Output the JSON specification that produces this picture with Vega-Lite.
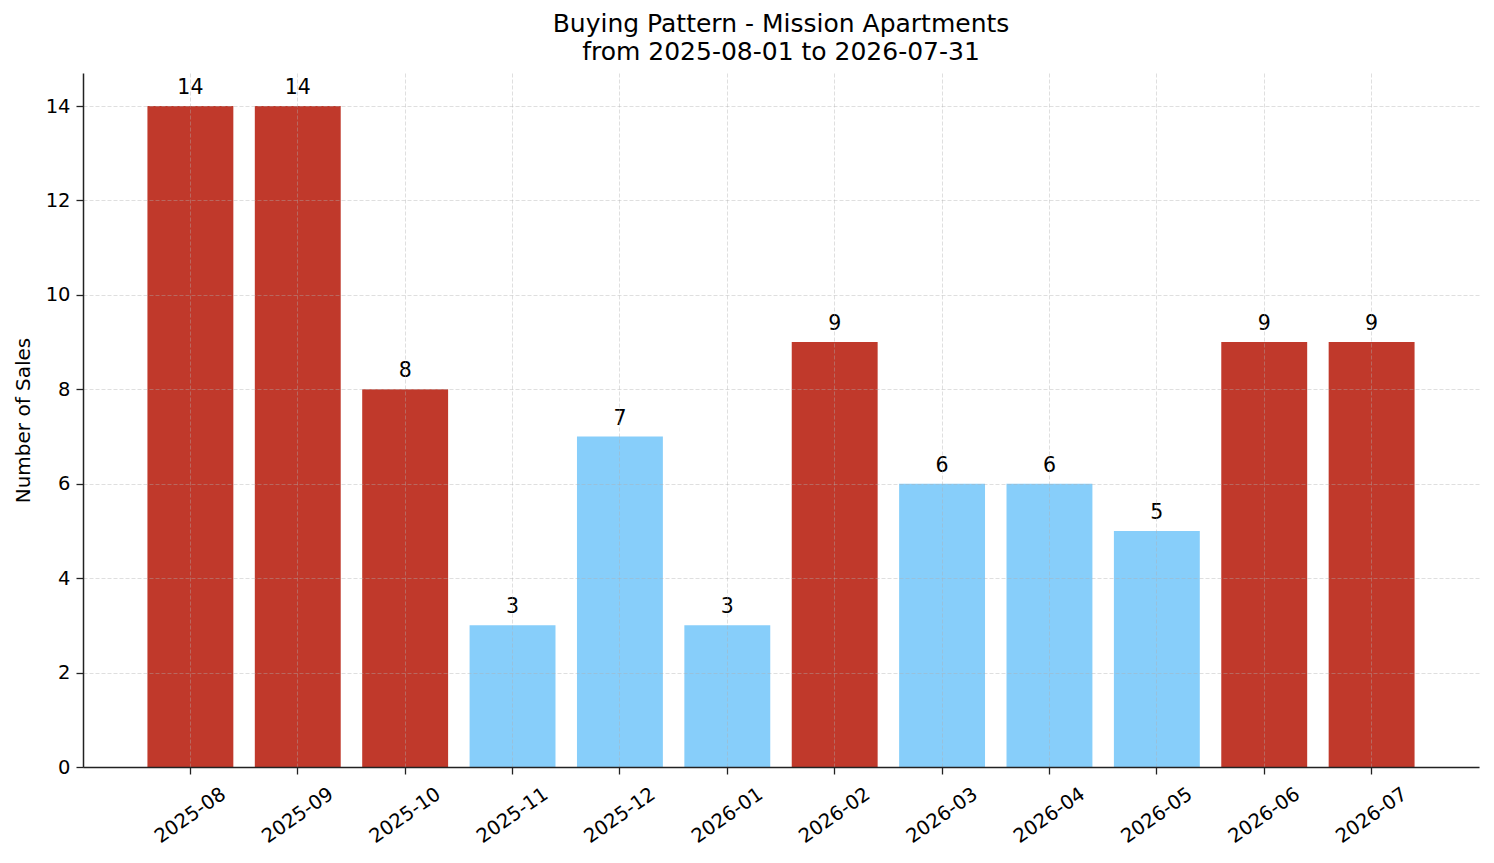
{
  "$schema": "https://vega.github.io/schema/vega-lite/v6.json",
  "width": 1396,
  "height": 694,
  "autosize": "none",
  "padding": {"left": 83, "top": 73, "right": 15, "bottom": 96},
  "background": "white",
  "title": {
    "text": ["Buying Pattern - Mission Apartments", "from 2025-08-01 to 2026-07-31"],
    "font": "DejaVu Sans",
    "fontSize": 25,
    "fontWeight": "normal",
    "lineHeight": 28,
    "offset": 8,
    "color": "#000000"
  },
  "config": {
    "view": {"stroke": null},
    "font": "DejaVu Sans"
  },
  "data": {
    "values": [
      {"month": "2025-08", "sales": 14},
      {"month": "2025-09", "sales": 14},
      {"month": "2025-10", "sales": 8},
      {"month": "2025-11", "sales": 3},
      {"month": "2025-12", "sales": 7},
      {"month": "2026-01", "sales": 3},
      {"month": "2026-02", "sales": 9},
      {"month": "2026-03", "sales": 6},
      {"month": "2026-04", "sales": 6},
      {"month": "2026-05", "sales": 5},
      {"month": "2026-06", "sales": 9},
      {"month": "2026-07", "sales": 9}
    ]
  },
  "transform": [
    {"joinaggregate": [{"op": "mean", "field": "sales", "as": "avg"}]}
  ],
  "encoding": {
    "x": {
      "field": "month",
      "type": "ordinal",
      "sort": null,
      "scale": {"paddingInner": 0.2, "paddingOuter": 0.6},
      "axis": {
        "title": null,
        "bandPosition": 0.5,
        "labelAngle": -35,
        "labelAlign": "center",
        "labelBaseline": "middle",
        "labelPadding": 41,
        "labelFontSize": 19.5,
        "labelColor": "#000000",
        "tickSize": 7,
        "tickWidth": 1.3,
        "tickColor": "#222222",
        "domainColor": "#222222",
        "domainWidth": 1.5,
        "grid": true,
        "gridColor": "#b0b0b0",
        "gridOpacity": 0.5,
        "gridDash": [4, 2],
        "gridWidth": 0.8,
        "zindex": 1
      }
    },
    "y": {
      "field": "sales",
      "type": "quantitative",
      "scale": {"domain": [0, 14.7], "nice": false},
      "axis": {
        "title": "Number of Sales",
        "titleFontSize": 20,
        "titleFontWeight": "normal",
        "titleColor": "#000000",
        "titlePadding": 12,
        "values": [0, 2, 4, 6, 8, 10, 12, 14],
        "labelFontSize": 19.5,
        "labelColor": "#000000",
        "labelPadding": 6,
        "tickSize": 7,
        "tickWidth": 1.3,
        "tickColor": "#222222",
        "domainColor": "#222222",
        "domainWidth": 1.5,
        "grid": true,
        "gridColor": "#b0b0b0",
        "gridOpacity": 0.5,
        "gridDash": [4, 2],
        "gridWidth": 0.8,
        "zindex": 1
      }
    }
  },
  "layer": [
    {
      "mark": {"type": "bar", "width": {"band": 1}},
      "encoding": {
        "color": {
          "condition": {"test": "datum.sales > datum.avg", "value": "#C0392B"},
          "value": "#87CEFA"
        }
      }
    },
    {
      "mark": {"type": "text", "baseline": "alphabetic", "dy": -12, "fontSize": 20.5, "color": "#000000"},
      "encoding": {
        "text": {"field": "sales", "type": "quantitative"}
      }
    }
  ]
}
